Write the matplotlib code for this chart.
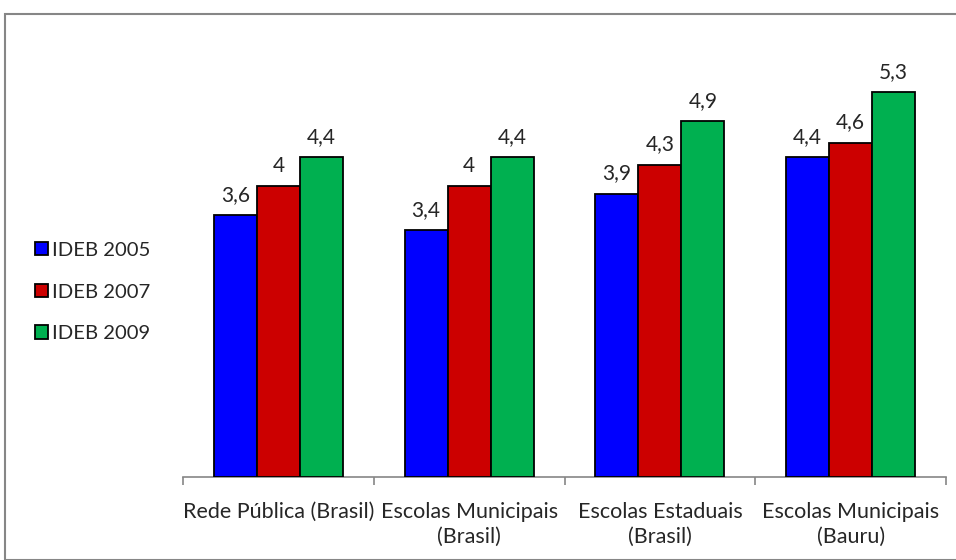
import numpy as np
import matplotlib.pyplot as plt
from matplotlib.patches import Rectangle

# ---------------------------------------------------------------------------
# DATA
# ---------------------------------------------------------------------------
categories = ["Rede Pública (Brasil)", "Escolas Municipais\n(Brasil)",
              "Escolas Estaduais\n(Brasil)", "Escolas Municipais\n(Bauru)"]
series_names = ["IDEB 2005", "IDEB 2007", "IDEB 2009"]
ideb_2005 = [3.6, 3.4, 3.9, 4.4]
ideb_2007 = [4.0, 4.0, 4.3, 4.6]
ideb_2009 = [4.4, 4.4, 4.9, 5.3]
value_labels = [["3,6", "3,4", "3,9", "4,4"],
                ["4", "4", "4,3", "4,6"],
                ["4,4", "4,4", "4,9", "5,3"]]
colors = ["#0000FF", "#CC0000", "#00B050"]

plt.rcParams["font.family"] = ["Lato", "DejaVu Sans"]

W, H = 956, 560
fig = plt.figure(figsize=(W / 100, H / 100), dpi=100)

# outer chart border (gray, runs off the right/bottom edge)
fig.patches.append(Rectangle((5 / W, 0), 1.0, (H - 14) / H, transform=fig.transFigure,
                             fill=False, edgecolor="#868686", linewidth=1.5))

# axes: x from 183 to 946 px, baseline at 477 px, top at 41 px
ax = fig.add_axes([183 / W, (H - 477) / H, (946 - 183) / W, (477 - 41) / H])
ax.set_xlim(0, 4)
ax.set_ylim(0, 6)

bar_w = 43 / 190.75
x = np.arange(len(categories)) + 0.5
for i, vals in enumerate([ideb_2005, ideb_2007, ideb_2009]):
    pos = x + (i - 1) * bar_w
    ax.bar(pos, vals, width=bar_w, color=colors[i], edgecolor="black",
           linewidth=1.3, label=series_names[i], zorder=3)
    for p, v, t in zip(pos, vals, value_labels[i]):
        ax.text(p, v + 0.14, t, ha="center", va="bottom", fontsize=15, color="#262626")

for side in ["left", "right", "top"]:
    ax.spines[side].set_visible(False)
ax.spines["bottom"].set_color("#868686")
ax.spines["bottom"].set_linewidth(1.2)
ax.set_yticks([])
ax.set_xticks(np.arange(0, 5))
ax.set_xticklabels([])
ax.tick_params(axis="x", which="major", length=6, color="#868686", width=1.2)
ax.set_xticks(x, minor=True)
ax.set_xticklabels(categories, minor=True, fontsize=15.5, color="#262626", linespacing=1.3)
ax.tick_params(axis="x", which="minor", length=0, pad=18)

handles, labels = ax.get_legend_handles_labels()
fig.legend(handles, labels, loc="center left", bbox_to_anchor=(17 / W, (H - 292) / H),
           frameon=False, fontsize=14.6, handlelength=0.65, handleheight=0.65,
           handletextpad=0.2, labelspacing=1.22, labelcolor="#262626")

fig.savefig("out.png", dpi=100)
